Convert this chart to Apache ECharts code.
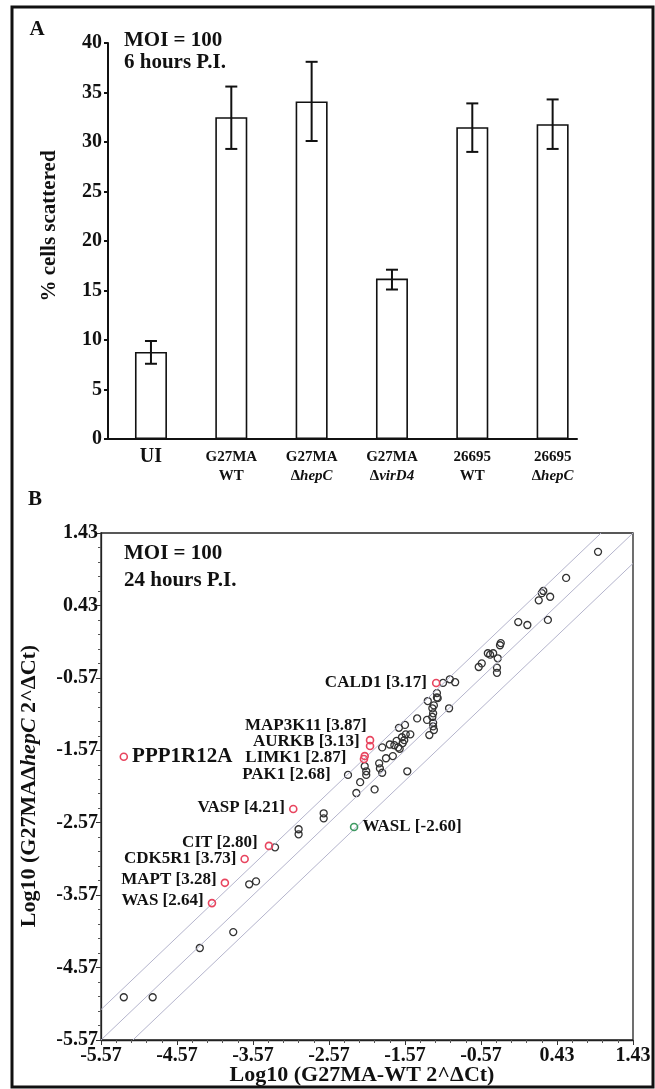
<!DOCTYPE html>
<html>
<head>
<meta charset="utf-8">
<script src="https://cdn.jsdelivr.net/npm/echarts@6/dist/echarts.min.js"></script>
<style>
    html, body { margin: 0; padding: 0; background: #fff; }
    #main { width: 655px; height: 1089px; }
</style>
</head>
<body>
<div id="main"></div>
<script>
// ---- panel A : % cells scattered ----
var strainsA = ['UI', 'G27MA\nWT', 'G27MA\n{g|Δ}{i|hepC}', 'G27MA\n{g|Δ}{i|virD4}', '26695\nWT', '26695\n{g|Δ}{i|hepC}'];
var scatterMean = [8.8, 32.5, 34.1, 16.2, 31.5, 31.8];
var scatterLow = [7.6, 29.3, 30.1, 15.1, 29.0, 29.3];
var scatterHigh = [9.9, 35.6, 38.1, 17.1, 33.9, 34.3];

// ---- panel B : log10 expression, G27MA-WT (x) vs G27MA ΔhepC (y) ----
var geneX = [-5.27, -4.89, -4.27, -3.83, -3.62, -3.53, -3.28, -2.97, -2.97, -2.64, -2.64,
    -2.32, -2.21, -2.16, -1.97, -1.54, -2.10, -2.08, -2.08, -1.91, -1.90, -1.87,
    -1.82, -1.73, -1.87, -1.77, -1.71, -1.68, -1.66, -1.61, -1.58, -1.56, -1.50, -1.64, -1.60,
    -1.65, -1.57, -1.41, -1.28, -1.21, -1.20, -1.21, -1.19, -1.20, -1.20, -1.25, -1.19,
    -1.27, -1.15, -1.14, -1.15, -0.99, -1.07, -0.98, -0.91,
    -0.60, -0.56, -0.48, -0.45, -0.41, -0.35, -0.36, -0.36, -0.31, -0.32,
    0.97, 0.55, 0.25, 0.23, 0.34, 0.19, -0.08, 0.04, 0.31];
var geneY = [-4.98, -4.98, -4.30, -4.08, -3.42, -3.38, -2.91, -2.66, -2.73, -2.44, -2.51,
    -1.91, -2.16, -2.01, -2.11, -1.86, -1.79, -1.86, -1.91, -1.75, -1.82, -1.88,
    -1.68, -1.65, -1.53, -1.49, -1.50, -1.44, -1.53, -1.39, -1.43, -1.35, -1.35, -1.55, -1.47,
    -1.26, -1.22, -1.13, -1.15, -1.11, -1.06, -0.99, -0.95, -1.19, -1.24, -1.36, -1.29,
    -0.89, -0.84, -0.85, -0.78, -0.99, -0.64, -0.59, -0.63,
    -0.42, -0.37, -0.23, -0.25, -0.23, -0.30, -0.43, -0.50, -0.09, -0.12,
    1.17, 0.81, 0.63, 0.60, 0.55, 0.50, 0.20, 0.16, 0.23];

var upGenes = ['PPP1R12A', 'CALD1', 'MAP3K11', 'AURKB', 'LIMK1', 'PAK1', 'VASP', 'CIT', 'CDK5R1', 'MAPT', 'WAS'];
var upFold = ['', '3.17', '3.87', '3.13', '2.87', '2.68', '4.21', '2.80', '3.73', '3.28', '2.64'];
var upX = [-5.27, -1.16, -2.03, -2.03, -2.10, -2.11, -3.04, -3.36, -3.68, -3.94, -4.11];
var upY = [-1.66, -0.64, -1.43, -1.51, -1.65, -1.69, -2.38, -2.89, -3.07, -3.40, -3.68];

var downGenes = ['WASL'];
var downFold = ['-2.60'];
var downX = [-2.24];
var downY = [-2.63];

var foldLine = 0.42; // log10 cut-off lines either side of y = x
var axisMinB = -5.57;
var axisMaxB = 1.43;

// label nudges for the crowded names (pixels)
var labelNudge = {
    CALD1: [-1, 0], MAP3K11: [5, -15], AURKB: [-2, -4], LIMK1: [-10, 2], PAK1: [-25, 16],
    VASP: [0, -1], CIT: [-3, -3], CDK5R1: [0, 0], MAPT: [0, -3], WAS: [0, -3]
};

var serif = '"Liberation Serif", "DejaVu Serif", serif';
var chart = echarts.init(document.getElementById('main'));

function errorBar(params, api) {
    var lo = api.coord([api.value(0), api.value(1)]);
    var hi = api.coord([api.value(0), api.value(2)]);
    var hw = 6;
    var st = {stroke: '#111', lineWidth: 2};
    return {
        type: 'group', children: [
            {type: 'line', shape: {x1: lo[0], y1: lo[1], x2: hi[0], y2: hi[1]}, style: st},
            {type: 'line', shape: {x1: lo[0] - hw, y1: lo[1], x2: lo[0] + hw, y2: lo[1]}, style: st},
            {type: 'line', shape: {x1: hi[0] - hw, y1: hi[1], x2: hi[0] + hw, y2: hi[1]}, style: st}
        ]
    };
}

var geneData = [];
for (var i = 0; i < geneX.length; i++) geneData.push([geneX[i], geneY[i]]);

var upData = [];
for (var i = 0; i < upGenes.length; i++) {
    var item = {name: upGenes[i], value: [upX[i], upY[i]]};
    if (upGenes[i] === 'PPP1R12A') {
        item.label = {position: 'right', distance: 4, fontSize: 21};
    } else {
        item.label = {position: 'left', distance: 4, offset: labelNudge[upGenes[i]]};
    }
    upData.push(item);
}
var downData = [];
for (var i = 0; i < downGenes.length; i++) {
    downData.push({name: downGenes[i], value: [downX[i], downY[i]]});
}

var diagMid = [[axisMinB, axisMinB], [axisMaxB, axisMaxB]];
var diagUp = [[axisMinB, axisMinB + foldLine], [axisMaxB - foldLine, axisMaxB]];
var diagDown = [[axisMinB + foldLine, axisMinB], [axisMaxB, axisMaxB - foldLine]];

function foldOf(name) {
    var k = upGenes.indexOf(name);
    if (k >= 0) return upFold[k] ? name + ' [' + upFold[k] + ']' : name;
    k = downGenes.indexOf(name);
    return name + ' [' + downFold[k] + ']';
}

var bText = {fill: '#111', fontFamily: serif, fontWeight: 'bold'};
var diagStyle = {color: '#b4b4cc', width: 1};

var option = {
    backgroundColor: '#fff',
    animation: false,
    textStyle: {fontFamily: serif},
    grid: [
        {left: 110.8, top: 43, width: 482, height: 396},
        {left: 108, top: 43, width: 469, height: 396},
        {left: 101, top: 533, width: 532, height: 507, show: true, borderColor: '#222', borderWidth: 1.3}
    ],
    xAxis: [
        {
            gridIndex: 0, type: 'category', data: strainsA,
            axisLine: {show: false}, axisTick: {show: false},
            axisLabel: {
                interval: 0, margin: 9, color: '#111', fontFamily: serif, fontWeight: 'bold', fontSize: 15, lineHeight: 19,
                formatter: function (v) { return v === 'UI' ? '{u|UI}' : v; },
                rich: {
                    u: {fontFamily: serif, fontWeight: 'bold', fontSize: 20, color: '#111', padding: [0, 0, 2, 0]},
                    g: {fontFamily: serif, fontWeight: 'bold', fontSize: 15, color: '#111'},
                    i: {fontFamily: serif, fontWeight: 'bold', fontStyle: 'italic', fontSize: 15, color: '#111'}
                }
            }
        },
        {
            gridIndex: 1, type: 'value', min: 0, max: 1,
            axisLine: {show: true, lineStyle: {color: '#111', width: 2}},
            axisTick: {show: false}, axisLabel: {show: false}, splitLine: {show: false}
        },
        {
            gridIndex: 2, type: 'value', min: axisMinB, max: axisMaxB, interval: 1,
            axisLine: {show: true, onZero: false, lineStyle: {color: '#222', width: 1.3}},
            axisTick: {show: true, length: 5, lineStyle: {color: '#333'}},
            minorTick: {show: true, splitNumber: 5, length: 3, lineStyle: {color: '#555'}},
            axisLabel: {
                color: '#111', fontFamily: serif, fontWeight: 'bold', fontSize: 20, margin: 6,
                showMinLabel: true, showMaxLabel: true,
                formatter: function (v) { return v.toFixed(2); }
            },
            splitLine: {show: false}
        }
    ],
    yAxis: [
        {gridIndex: 0, type: 'value', min: 0, max: 40, show: false},
        {
            gridIndex: 1, type: 'value', min: 0, max: 40, interval: 5,
            axisLine: {show: true, lineStyle: {color: '#111', width: 2}},
            axisTick: {show: true, length: 4, lineStyle: {color: '#111', width: 2}},
            axisLabel: {color: '#111', fontFamily: serif, fontWeight: 'bold', fontSize: 20, margin: 6},
            splitLine: {show: false}
        },
        {
            gridIndex: 2, type: 'value', min: axisMinB, max: axisMaxB, interval: 1,
            axisLine: {show: true, onZero: false, lineStyle: {color: '#222', width: 1.3}},
            axisTick: {show: true, length: 5, lineStyle: {color: '#333'}},
            minorTick: {show: true, splitNumber: 5, length: 3, lineStyle: {color: '#555'}},
            axisLabel: {
                color: '#111', fontFamily: serif, fontWeight: 'bold', fontSize: 20, margin: 3,
                showMinLabel: true, showMaxLabel: true,
                formatter: function (v) { return v.toFixed(2); }
            },
            splitLine: {show: false}
        }
    ],
    series: [
        {
            type: 'bar', xAxisIndex: 0, yAxisIndex: 0, data: scatterMean, barWidth: 32,
            itemStyle: {color: '#fff', borderColor: '#111', borderWidth: 1.6}
        },
        {
            type: 'custom', xAxisIndex: 0, yAxisIndex: 0, renderItem: errorBar, z: 5,
            data: scatterLow.map(function (v, k) { return [k, v, scatterHigh[k]]; })
        },
        {type: 'scatter', xAxisIndex: 1, yAxisIndex: 1, data: [], silent: true},
        {type: 'line', xAxisIndex: 2, yAxisIndex: 2, data: diagMid, symbol: 'none', lineStyle: diagStyle, silent: true},
        {type: 'line', xAxisIndex: 2, yAxisIndex: 2, data: diagUp, symbol: 'none', lineStyle: diagStyle, silent: true},
        {type: 'line', xAxisIndex: 2, yAxisIndex: 2, data: diagDown, symbol: 'none', lineStyle: diagStyle, silent: true},
        {
            type: 'scatter', xAxisIndex: 2, yAxisIndex: 2, data: geneData, symbol: 'circle', symbolSize: 7,
            itemStyle: {color: 'rgba(255,255,255,0)', borderColor: '#333', borderWidth: 1.3, opacity: 1}
        },
        {
            type: 'scatter', xAxisIndex: 2, yAxisIndex: 2, data: upData, symbol: 'circle', symbolSize: 7, z: 4,
            itemStyle: {color: 'rgba(255,255,255,0)', borderColor: '#e8455f', borderWidth: 1.6, opacity: 1},
            label: {
                show: true, color: '#111', fontFamily: serif, fontWeight: 'bold', fontSize: 17,
                formatter: function (p) { return foldOf(p.name); }
            }
        },
        {
            type: 'scatter', xAxisIndex: 2, yAxisIndex: 2, data: downData, symbol: 'circle', symbolSize: 7, z: 4,
            itemStyle: {color: 'rgba(255,255,255,0)', borderColor: '#3f9a62', borderWidth: 1.6, opacity: 1},
            label: {
                show: true, position: 'right', distance: 4, color: '#111', fontFamily: serif,
                fontWeight: 'bold', fontSize: 17,
                formatter: function (p) { return foldOf(p.name); }
            }
        }
    ],
    graphic: [
        {type: 'rect', shape: {x: 12, y: 7, width: 641, height: 1080}, style: {fill: 'none', stroke: '#111', lineWidth: 3}, silent: true},
        {type: 'text', x: 37, y: 30, style: Object.assign({text: 'A', fontSize: 21, align: 'center', verticalAlign: 'middle'}, bText)},
        {type: 'text', x: 35, y: 500, style: Object.assign({text: 'B', fontSize: 21, align: 'center', verticalAlign: 'middle'}, bText)},
        {type: 'text', left: 124, top: 30, style: Object.assign({text: 'MOI = 100\n6 hours P.I.', fontSize: 21, lineHeight: 22}, bText)},
        {type: 'text', left: 124, top: 540, style: Object.assign({text: 'MOI = 100\n24 hours P.I.', fontSize: 21, lineHeight: 27}, bText)},
        {
            type: 'text', x: 50, y: 226, rotation: Math.PI / 2,
            style: Object.assign({text: '% cells scattered', fontSize: 21, align: 'center', verticalAlign: 'middle'}, bText)
        },
        {
            type: 'text', x: 29, y: 786, rotation: Math.PI / 2,
            style: Object.assign({
                text: 'Log10 (G27MA{g|Δ}{i|hepC} 2^ΔCt)', fontSize: 22, align: 'center', verticalAlign: 'middle',
                rich: {
                    g: {fontFamily: serif, fontWeight: 'bold', fontSize: 22, fill: '#111'},
                    i: {fontFamily: serif, fontWeight: 'bold', fontStyle: 'italic', fontSize: 22, fill: '#111'}
                }
            }, bText)
        },
        {
            type: 'text', x: 362, y: 1075,
            style: Object.assign({text: 'Log10 (G27MA-WT 2^ΔCt)', fontSize: 22, align: 'center', verticalAlign: 'middle'}, bText)
        }
    ]
};

chart.setOption(option);
</script>
</body>
</html>
